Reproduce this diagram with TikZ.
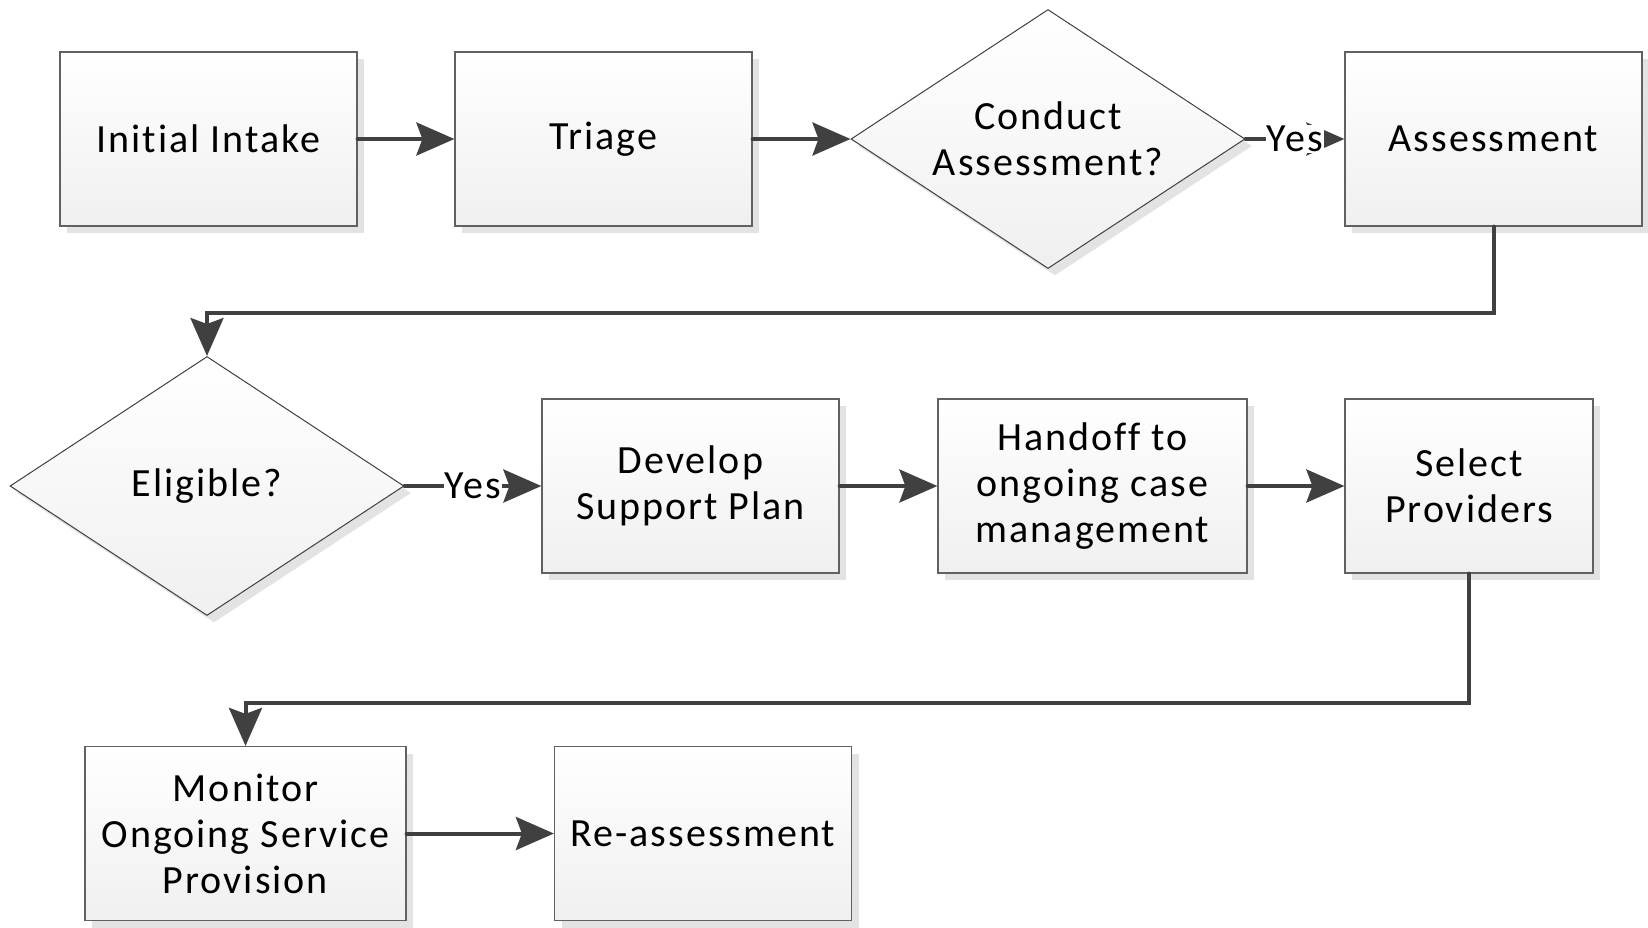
\documentclass[tikz,border=0pt]{standalone}
\usepackage{fontspec}
\setmainfont{Carlito}[LetterSpace=5,Ligatures={NoCommon}]
\usepackage{tikz}
\usetikzlibrary{shapes.geometric}
\usetikzlibrary{arrows.meta}
\usetikzlibrary{shadows}
\usetikzlibrary{positioning}

\begin{document}
\begin{tikzpicture}[x=0.5pt,y=-0.5pt,
  every node/.style={font=\fontsize{20}{23}\selectfont,align=center},
  boxshadow/.style={drop shadow={shadow xshift=3.5pt,shadow yshift=-3.5pt,fill=black!11,opacity=1}},
  box/.style={rectangle,draw=black!62,line width=0.6pt,top color=white,bottom color=black!6,
    minimum width=148.5pt,minimum height=87pt,inner sep=0pt,boxshadow},
  decision/.style={diamond,aspect=1.5,draw=black!75,line width=0.5pt,top color=white,bottom color=black!6,
    minimum width=197pt,minimum height=129.5pt,inner sep=0pt,boxshadow},
  flow/.style={draw=black!75,line width=2pt,line cap=round,-{Stealth[length=19pt,width=16.5pt,inset=3pt]}},
  yes/.style={fill=white,inner sep=0.5pt}]
\useasboundingbox (0,0) rectangle (1648,927);
% first row
\node[box] (intake) at (208.5,139) {Initial Intake};
\node[box] (triage) at (603.5,139) {Triage};
\node[decision] (conduct) at (1048,139) {Conduct\\Assessment?};
\node[box] (assess) at (1493.5,139) {Assessment};
% second row
\node[decision] (elig) at (207,486) {Eligible?};
\node[box] (plan) at (690.5,486) {Develop\\Support Plan};
\node[box,minimum width=154.5pt] (handoff) at (1092.5,486) {Handoff to\\ongoing case\\management};
\node[box,minimum width=124pt] (select) at (1469,486) {Select\\Providers};
% third row
\node[box,minimum width=160.5pt] (monitor) at (245.5,833.5) {Monitor\\Ongoing Service\\Provision};
\node[box] (reassess) at (703,833.5) {Re-assessment};
% connectors
\draw[flow] (intake) -- (triage);
\draw[flow] (triage) -- (conduct);
\draw[flow] (conduct) -- node[yes]{Yes} (assess);
\draw[flow] (assess.south) -- ++(0,86) -| (elig.north);
\draw[flow] (elig) -- node[yes]{Yes} (plan);
\draw[flow] (plan) -- (handoff);
\draw[flow] (handoff) -- (select);
\draw[flow] (select.south) -- ++(0,129.5) -| (monitor.north);
\draw[flow] (monitor) -- (reassess);
\end{tikzpicture}
\end{document}
